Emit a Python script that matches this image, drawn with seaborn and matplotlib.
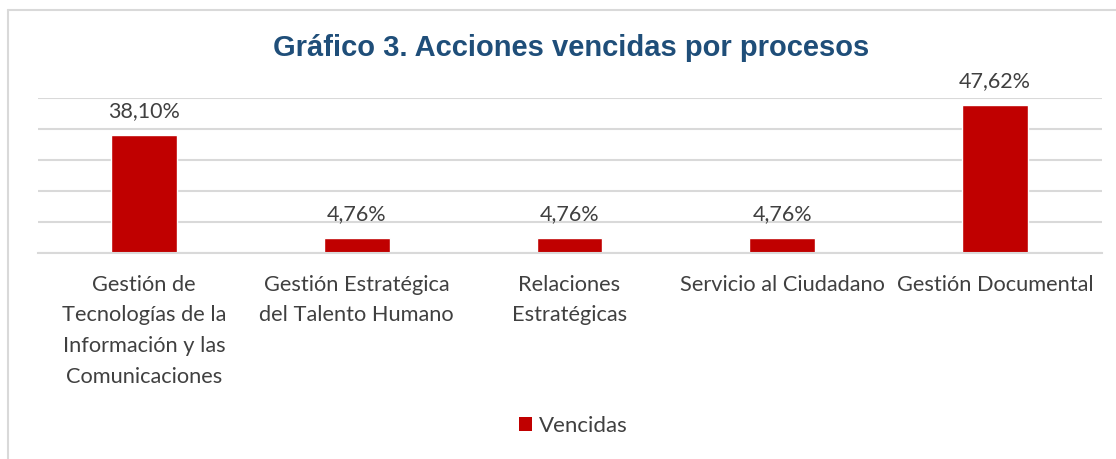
import matplotlib
matplotlib.use("Agg")
import matplotlib.pyplot as plt
from matplotlib.lines import Line2D
from matplotlib.patches import Patch
import seaborn as sns
import pandas as pd

categories = [
    "Gestión de\nTecnologías de la\nInformación y las\nComunicaciones",
    "Gestión Estratégica\ndel Talento Humano",
    "Relaciones\nEstratégicas",
    "Servicio al Ciudadano",
    "Gestión Documental",
]
values = [38.10, 4.76, 4.76, 4.76, 47.62]
series_name = "Vencidas"
title = "Gráfico 3. Acciones vencidas por procesos"

df = pd.DataFrame({"proceso": categories, "valor": values, "serie": series_name})

sns.set_theme(style="white")
plt.rcParams["font.family"] = ["Lato", "DejaVu Sans"]

W, H = 1116, 459
fig = plt.figure(figsize=(W / 100, H / 100), dpi=100)
ax = fig.add_axes([37.5 / W, 1 - 253 / H, (1101.5 - 37.5) / W, (253 - 98) / H])

bar_color = "#C00000"
sns.barplot(data=df, x="proceso", y="valor", hue="serie", palette=[bar_color],
            width=0.31, dodge=False, ax=ax, legend=False, saturation=1)

ax.set_ylim(0, 50)
ax.set_xlim(-0.5, len(categories) - 0.5)
ax.set_yticks([0, 10, 20, 30, 40, 50])
ax.yaxis.grid(True, color="#D9D9D9", linewidth=1.5)
ax.set_axisbelow(True)
ax.tick_params(axis="y", left=False, labelleft=False)
ax.tick_params(axis="x", bottom=False, pad=9.5, labelsize=15.7, colors="#404040")
for lbl in ax.get_xticklabels():
    lbl.set_linespacing(1.68)
    lbl.set_verticalalignment("top")
for s in ["top", "right", "left"]:
    ax.spines[s].set_visible(False)
ax.spines["bottom"].set_color("#D9D9D9")
ax.spines["bottom"].set_linewidth(1.5)
ax.set_xlabel("")
ax.set_ylabel("")

for cont in ax.containers:
    ax.bar_label(cont, labels=[f"{v:.2f}%".replace(".", ",") for v in cont.datavalues],
                 padding=10, fontsize=15.5, color="#404040")

fig.text(571 / W, 1 - 48 / H, title, ha="center", va="center",
         fontsize=21, fontweight="bold", color="#1F4E79",
         family=["Liberation Sans", "DejaVu Sans"])

fig.legend(handles=[Patch(facecolor=bar_color, edgecolor="none", label=series_name)],
           loc="center", bbox_to_anchor=(573 / W, 1 - 426 / H), frameon=False,
           fontsize=16, labelcolor="#404040", handlelength=0.6, handleheight=0.6,
           handletextpad=0.3)

fig.add_artist(Line2D([8 / W, 1.0], [1 - 10 / H, 1 - 10 / H], transform=fig.transFigure,
                      color="#D9D9D9", linewidth=1.5))
fig.add_artist(Line2D([8 / W, 8 / W], [0.0, 1 - 10 / H], transform=fig.transFigure,
                      color="#D9D9D9", linewidth=1.5))

fig.savefig("out.png", dpi=100, facecolor="white")
